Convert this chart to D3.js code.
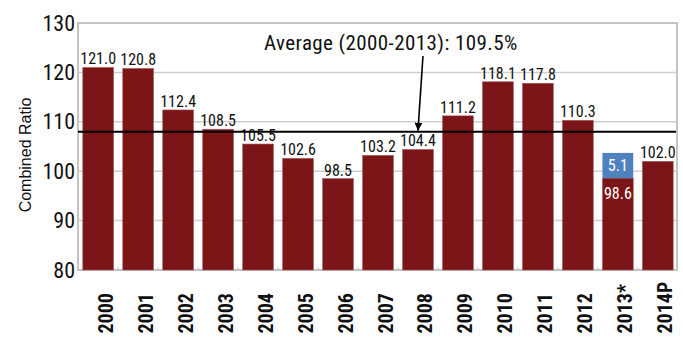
<!DOCTYPE html>
<html lang="en">
<head>
<meta charset="utf-8">
<title>Combined Ratio</title>
<script src="https://cdn.jsdelivr.net/npm/d3@7"></script>
<style>
  body { margin: 0; background: #fff; }
  text { font-family: "Liberation Sans Narrow", "Roboto Condensed", "DejaVu Sans Condensed", "Liberation Sans", sans-serif; font-stretch: condensed; }
</style>
</head>
<body>
<div id="chart"></div>
<script>
// data
var years = ["2000","2001","2002","2003","2004","2005","2006","2007","2008","2009","2010","2011","2012","2013*","2014P"]
var ratio = [121.0,120.8,112.4,108.5,105.5,102.6,98.5,103.2,104.4,111.2,118.1,117.8,110.3,98.6,102.0]
var extra = [0,0,0,0,0,0,0,0,0,0,0,0,0,5.1,0]
var yTicks = [80,90,100,110,120,130]
var avgLabel = "Average (2000-2013): 109.5%"
var avgLine = 108.0

var W = 683, H = 337
var pLeft = 78, pRight = 678, pTop = 23, pBottom = 270

var svg = d3.select("#chart").append("svg")
    .attr("width", W).attr("height", H)

var x = d3.scaleBand()
    .domain(years)
    .range([pLeft, pRight])
    .paddingInner(0.23)
    .paddingOuter(0.12)

var y = d3.scaleLinear()
    .domain([80,130])
    .range([pBottom, pTop])

// gridlines
svg.selectAll(".grid")
    .data(yTicks.slice(1))
    .enter()
    .append("line")
    .attr("x1", pLeft).attr("x2", pRight - 1)
    .attr("y1", function(d){ return y(d) })
    .attr("y2", function(d){ return y(d) })
    .attr("stroke", "#cfcfcf")
    .attr("stroke-width", 1.5)

// frame
svg.append("rect")
    .attr("x", pLeft).attr("y", pTop)
    .attr("width", pRight - pLeft - 1).attr("height", pBottom - pTop)
    .attr("fill", "none")
    .attr("stroke", "#c4c4c4")
    .attr("stroke-width", 2)

// small ticks between bars
svg.selectAll(".mt")
    .data(years.slice(1))
    .enter()
    .append("line")
    .attr("x1", function(d){ return x(d) - x.step()*x.paddingInner()/2 })
    .attr("x2", function(d){ return x(d) - x.step()*x.paddingInner()/2 })
    .attr("y1", pBottom - 3).attr("y2", pBottom)
    .attr("stroke", "#c4c4c4")

// y axis labels
svg.selectAll(".ylab")
    .data(yTicks)
    .enter()
    .append("text")
    .attr("x", 75)
    .attr("y", function(d){ return y(d) + 7.5 })
    .attr("text-anchor", "end")
    .attr("font-size", 22)
    .attr("fill", "#111")
    .text(function(d){ return d })

svg.append("text")
    .attr("transform", "translate(31,155) rotate(-90)")
    .attr("text-anchor", "middle")
    .attr("font-size", 16)
    .style("font-family", "'Liberation Sans', Arial, sans-serif")
    .style("font-stretch", "normal")
    .attr("fill", "#111")
    .text("Combined Ratio")

// bars
svg.selectAll(".bar")
    .data(ratio)
    .enter()
    .append("rect")
    .attr("x", function(d,i){ return x(years[i]) })
    .attr("width", x.bandwidth())
    .attr("y", function(d){ return y(d) })
    .attr("height", function(d){ return pBottom - y(d) })
    .attr("fill", "#7b1518")
    .attr("stroke", "#a45a5c")
    .attr("stroke-width", 0.6)

// blue part on 2013
svg.selectAll(".extra")
    .data(extra)
    .enter()
    .filter(function(d){ return d > 0 })
    .append("rect")
    .attr("x", function(d){ return x(years[extra.indexOf(d)]) })
    .attr("width", x.bandwidth())
    .attr("y", function(d){ var i = extra.indexOf(d); return y(ratio[i] + d) })
    .attr("height", function(d){ var i = extra.indexOf(d); return y(ratio[i]) - y(ratio[i] + d) })
    .attr("fill", "#4f81bd")

// value labels
svg.selectAll(".val")
    .data(ratio)
    .enter()
    .append("text")
    .attr("x", function(d,i){ return x(years[i]) + x.bandwidth()/2 })
    .attr("y", function(d,i){
        if (extra[i] > 0) return y(d - 4.2)
        return y(d) - 3
    })
    .attr("text-anchor", "middle")
    .attr("font-size", 16)
    .attr("fill", function(d,i){ return extra[i] > 0 ? "#fff" : "#111" })
    .text(function(d){ return d.toFixed(1) })

svg.selectAll(".exval")
    .data(extra)
    .enter()
    .filter(function(d){ return d > 0 })
    .append("text")
    .attr("x", function(d){ return x(years[extra.indexOf(d)]) + x.bandwidth()/2 })
    .attr("y", function(d){ var i = extra.indexOf(d); return y(ratio[i] + d/2) + 5.5 })
    .attr("text-anchor", "middle")
    .attr("font-size", 16)
    .attr("fill", "#fff")
    .text(function(d){ return d.toFixed(1) })

// average line
svg.append("line")
    .attr("x1", pLeft).attr("x2", pRight - 2)
    .attr("y1", y(avgLine)).attr("y2", y(avgLine))
    .attr("stroke", "#000")
    .attr("stroke-width", 2)

svg.append("text")
    .attr("x", 264)
    .attr("y", 50)
    .attr("font-size", 21)
    .attr("letter-spacing", 0.4)
    .attr("fill", "#111")
    .text(avgLabel)

svg.append("defs").append("marker")
    .attr("id", "arr")
    .attr("viewBox", "0 0 10 10")
    .attr("refX", 10).attr("refY", 5)
    .attr("markerWidth", 5).attr("markerHeight", 5)
    .attr("orient", "auto")
    .append("path")
    .attr("d", "M0,0L10,5L0,10z")
    .attr("fill", "#000")

var ax = x("2008") + x.bandwidth()/2
svg.append("line")
    .attr("x1", ax + 5).attr("y1", 56)
    .attr("x2", ax).attr("y2", y(avgLine) - 1)
    .attr("stroke", "#000")
    .attr("stroke-width", 1.6)
    .attr("marker-end", "url(#arr)")

// x labels
svg.selectAll(".xlab")
    .data(years)
    .enter()
    .append("text")
    .attr("transform", function(d){
        return "translate(" + (x(d) + x.bandwidth()/2 + 14.5) + "," + 333.5 + ") rotate(-90)"
    })
    .attr("text-anchor", "start")
    .attr("font-size", 20)
    .attr("font-weight", "bold")
    .attr("fill", "#111")
    .text(function(d){ return d })
</script>
</body>
</html>
